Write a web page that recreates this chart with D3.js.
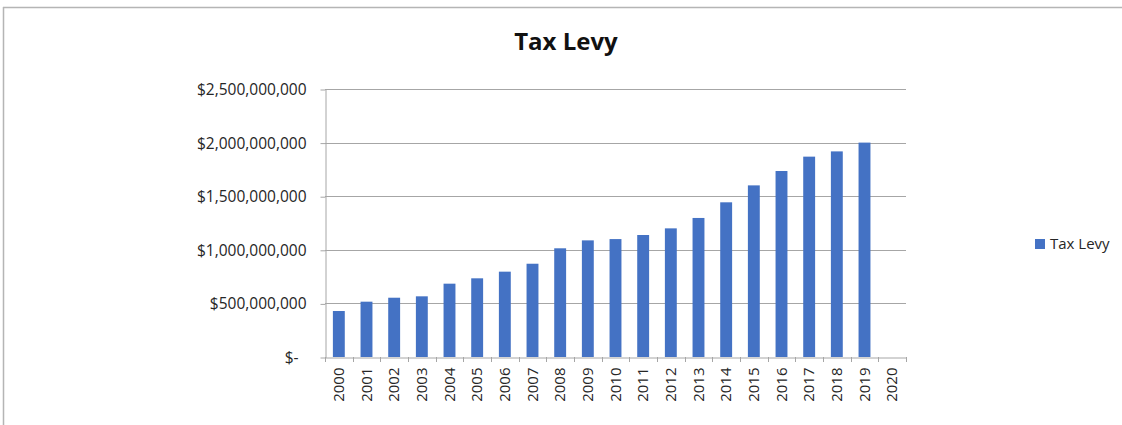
<!DOCTYPE html>
<html>
<head>
<meta charset="utf-8">
<script src="https://cdn.jsdelivr.net/npm/d3@7"></script>
<style>
  body { margin: 0; background: #fff; }
  text { font-family: "Open Sans", "Noto Sans", sans-serif; }
</style>
</head>
<body>
<svg id="chart" width="1122" height="425"></svg>
<script>
// data
var years = ["2000", "2001", "2002", "2003", "2004", "2005", "2006", "2007", "2008", "2009", "2010",
    "2011", "2012", "2013", "2014", "2015", "2016", "2017", "2018", "2019", "2020"];
var levy = [429e6, 516e6, 553e6, 566e6, 684e6, 734e6, 796e6, 870e6, 1014e6, 1088e6, 1100e6,
    1138e6, 1200e6, 1297e6, 1443e6, 1601e6, 1735e6, 1869e6, 1918e6, 2000e6, null];
var yTicks = [0, 500e6, 1000e6, 1500e6, 2000e6, 2500e6];
var seriesName = "Tax Levy";

var svg = d3.select("#chart"),
    plotLeft = 325, plotRight = 906, plotTop = 89, plotBottom = 357,
    barColor = "#4472c4", gridColor = "#a6a6a6";

// outer frame (top and left visible)
svg.append("line").attr("x1", 3).attr("x2", 1122).attr("y1", 7.5).attr("y2", 7.5)
    .attr("stroke", "#b5b5b5").attr("stroke-width", 1.5);
svg.append("line").attr("x1", 3.5).attr("x2", 3.5).attr("y1", 7).attr("y2", 425)
    .attr("stroke", "#b5b5b5").attr("stroke-width", 1.5);

svg.append("text")
    .attr("x", 566).attr("y", 50)
    .attr("text-anchor", "middle")
    .style("font-size", "24px").style("font-weight", "bold").attr("fill", "#111")
    .text("Tax Levy");

var x = d3.scaleBand().domain(years).range([plotLeft, plotRight]).paddingInner(0).paddingOuter(0);
var y = d3.scaleLinear().domain([0, 2500e6]).range([plotBottom, plotTop]);

// gridlines
svg.append("g").selectAll("line")
    .data(yTicks.filter(function (d) { return d > 0; }))
    .enter().append("line")
    .attr("x1", plotLeft).attr("x2", plotRight)
    .attr("y1", function (d) { return Math.round(y(d)) + 0.5; })
    .attr("y2", function (d) { return Math.round(y(d)) + 0.5; })
    .attr("stroke", gridColor);

// bars
var bw = x.bandwidth() * 0.43;
svg.append("g").selectAll("rect")
    .data(years.map(function (d, i) { return { year: d, value: levy[i] }; })
        .filter(function (d) { return d.value != null; }))
    .enter().append("rect")
    .attr("x", function (d) { return x(d.year) + (x.bandwidth() - bw) / 2; })
    .attr("width", bw)
    .attr("y", function (d) { return y(d.value); })
    .attr("height", function (d) { return plotBottom - y(d.value); })
    .attr("fill", barColor);

// y axis
var yAxis = d3.axisLeft(y).tickValues(yTicks).tickSizeInner(5).tickSizeOuter(0).tickPadding(14)
    .tickFormat(function (d) { return d === 0 ? "$-" : d3.format("$,")(d); });
var gy = svg.append("g").attr("transform", "translate(" + (plotLeft + 0.5) + ",0.5)").call(yAxis);
gy.select(".domain").attr("stroke", gridColor);
gy.selectAll(".tick line").attr("stroke", gridColor);
gy.selectAll(".tick text").style("font-size", "15.5px").attr("fill", "#262626")
    .attr("dx", function (d) { return d === 0 ? -8 : 0; });

// x axis
var xAxis = d3.axisBottom(x).tickSize(0).tickPadding(0);
var gx = svg.append("g").attr("transform", "translate(0," + (plotBottom + 0.5) + ")").call(xAxis);
gx.select(".domain").attr("stroke", gridColor);
gx.selectAll(".tick text")
    .style("font-size", "15px").attr("fill", "#262626")
    .attr("text-anchor", "end")
    .attr("transform", "rotate(-90)")
    .attr("x", -10).attr("y", 0).attr("dy", "0.35em");
svg.append("g").selectAll("line")
    .data(years.concat(["end"]))
    .enter().append("line")
    .attr("x1", function (d, i) { return Math.round(plotLeft + i * x.bandwidth()) + 0.5; })
    .attr("x2", function (d, i) { return Math.round(plotLeft + i * x.bandwidth()) + 0.5; })
    .attr("y1", plotBottom).attr("y2", plotBottom + 5)
    .attr("stroke", gridColor);

// legend
var lg = svg.append("g").attr("transform", "translate(1035,239)");
lg.append("rect").attr("width", 10).attr("height", 10).attr("fill", barColor);
lg.append("text").attr("x", 15).attr("y", 5).attr("dy", "0.35em")
    .style("font-size", "15px").attr("fill", "#262626").text(seriesName);
</script>
</body>
</html>
